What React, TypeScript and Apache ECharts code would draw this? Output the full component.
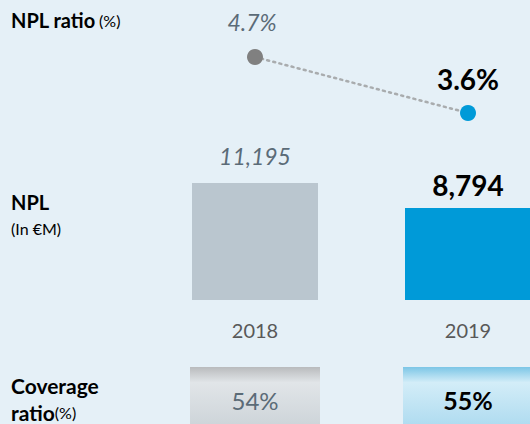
import React, { useEffect, useRef } from "react";
import * as echarts from "echarts";

const years = ["2018", "2019"];
const nplRatio = [4.7, 3.6];
const nplAmount = [11195, 8794];
const coverageRatio = [54, 55];

const FONT = "Lato, 'Noto Sans', sans-serif";
const BG = "#e5f0f7";
const GREY_TXT = "#5b6b77";
const BLUE = "#009ad8";

export default function App() {
  const ref = useRef<HTMLDivElement>(null);
  useEffect(() => {
    if (!ref.current) return;
    const chart = echarts.init(ref.current, null, { renderer: "svg" });
    const gridX = { left: 148.5, width: 426, outerBoundsMode: "none", containLabel: false };
    const greyGrad = new echarts.graphic.LinearGradient(0, 0, 0, 1, [
      { offset: 0, color: "#b9bbbd" },
      { offset: 0.25, color: "#e1e5e8" },
      { offset: 1, color: "#ccd3d8" },
    ]);
    const blueGrad = new echarts.graphic.LinearGradient(0, 0, 0, 1, [
      { offset: 0, color: "#7cc6e6" },
      { offset: 0.25, color: "#d3edf8" },
      { offset: 1, color: "#acdaef" },
    ]);
    chart.setOption({
      animation: false,
      backgroundColor: BG,
      textStyle: { fontFamily: FONT },
      grid: [
        { ...gridX, top: 41.7, height: 101.8 },
        { ...gridX, top: 183, height: 117 },
        { ...gridX, top: 367, height: 62 },
      ],
      xAxis: [0, 1, 2].map((i) => ({
        type: "category",
        gridIndex: i,
        data: years,
        axisLine: { show: false },
        axisTick: { show: false },
        splitLine: { show: false },
        axisLabel:
          i === 1
            ? { show: true, color: "#595959", fontSize: 20, fontFamily: FONT, margin: 20 }
            : { show: false },
      })),
      yAxis: [
        { type: "value", gridIndex: 0, min: 3, max: 5, show: false },
        { type: "value", gridIndex: 1, min: 0, max: 11195, show: false },
        { type: "category", gridIndex: 2, data: ["Coverage"], show: false },
      ],
      series: [
        {
          type: "line",
          xAxisIndex: 0,
          yAxisIndex: 0,
          symbol: "circle",
          symbolSize: 16,
          lineStyle: { color: "#a9acae", width: 2.5, type: [2, 4.3], cap: "round" },
          data: nplRatio.map((v, i) => ({
            value: v,
            itemStyle: { color: i === 0 ? "#808080" : BLUE },
            label:
              i === 0
                ? { show: true, position: "top", distance: 15, color: GREY_TXT, fontSize: 23, fontStyle: "italic", lineHeight: 23, fontFamily: FONT, offset: [-3, 0] }
                : { show: true, position: "top", distance: 12, color: "#000", fontSize: 28, fontWeight: "bold", lineHeight: 28, fontFamily: FONT },
          })),
          label: { formatter: (p: any) => `${p.value}%` },
          z: 3,
        },
        {
          type: "bar",
          xAxisIndex: 1,
          yAxisIndex: 1,
          barWidth: 126,
          data: nplAmount.map((v, i) => ({
            value: v,
            itemStyle: { color: i === 0 ? "#bac6cf" : BLUE },
            label:
              i === 0
                ? { show: true, position: "top", distance: 16, color: GREY_TXT, fontSize: 23, fontStyle: "italic", lineHeight: 23, fontFamily: FONT }
                : { show: true, position: "top", distance: 9, color: "#000", fontSize: 28, fontWeight: "bold", lineHeight: 28, fontFamily: FONT },
          })),
          label: { formatter: (p: any) => Number(p.value).toLocaleString("en-US") },
        },
        {
          type: "scatter",
          xAxisIndex: 2,
          yAxisIndex: 2,
          symbol: "rect",
          symbolSize: [130, 62],
          data: coverageRatio.map((v, i) => ({
            value: [i, 0, v],
            itemStyle: { color: i === 0 ? greyGrad : blueGrad, opacity: 1 },
            label:
              i === 0
                ? { show: true, position: "inside", color: GREY_TXT, fontSize: 24, fontFamily: FONT, offset: [0, 2] }
                : { show: true, position: "inside", color: "#000", fontSize: 25, fontWeight: "bold", fontFamily: FONT, offset: [0, 2] },
          })),
          label: { formatter: (p: any) => `${p.value[2]}%` },
        },
      ],
      graphic: [
        {
          type: "text",
          x: 11,
          y: 20,
          style: {
            text: "{b|NPL ratio} {s|(%)}",
            verticalAlign: "middle",
            rich: {
              b: { fontSize: 20, fontWeight: "bold", fill: "#000", fontFamily: FONT },
              s: { fontSize: 16, fill: "#000", fontFamily: FONT },
            },
          },
        },
        {
          type: "text",
          x: 11,
          y: 202,
          style: { text: "NPL", fontSize: 20, fontWeight: "bold", fill: "#000", fontFamily: FONT, verticalAlign: "middle" },
        },
        {
          type: "text",
          x: 11,
          y: 228,
          style: { text: "(In €M)", fontSize: 16, fill: "#000", fontFamily: FONT, verticalAlign: "middle" },
        },
        {
          type: "text",
          x: 11,
          y: 385,
          style: { text: "Coverage", fontSize: 21, fontWeight: "bold", fill: "#000", fontFamily: FONT, verticalAlign: "middle" },
        },
        {
          type: "text",
          x: 11,
          y: 412,
          style: {
            text: "{b|ratio}{s|(%)}",
            verticalAlign: "middle",
            rich: {
              b: { fontSize: 21, fontWeight: "bold", fill: "#000", fontFamily: FONT },
              s: { fontSize: 16, fill: "#000", fontFamily: FONT },
            },
          },
        },
      ],
    });
    return () => chart.dispose();
  }, []);
  return (
    <div
      ref={ref}
      style={{ position: "fixed", left: 0, top: 0, width: 530, height: 424 }}
    />
  );
}
